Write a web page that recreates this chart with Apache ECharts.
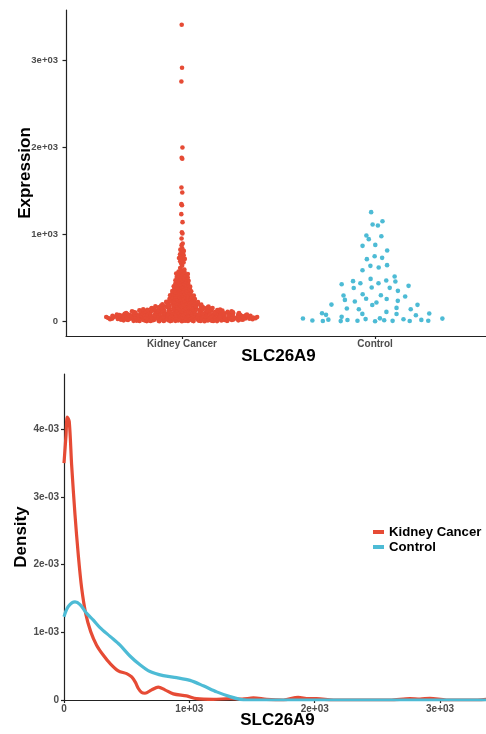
<!DOCTYPE html>
<html lang="en">
<head>
<meta charset="UTF-8">
<title>SLC26A9 expression</title>
<script src="https://cdn.jsdelivr.net/npm/echarts@6.0.0/dist/echarts.min.js"></script>
<style>
  html, body { margin: 0; padding: 0; background: #fff; }
  #chart { width: 486px; height: 734px; }
</style>
</head>
<body>
<div id="chart"></div>
<script>
// groups and colours
const groups = ['Kidney Cancer', 'Control'];
const colors = ['#E64B35', '#4DBBD5'];

// expression values (kidney cancer mass estimated from its width)
const kidneyExpr = [
  0,0,0,1,1,1,1,2,2,2,3,3,3,4,4,4,5,5,5,5,6,6,7,7,7,8,8,8,9,9,10,10,10,11,11,11,12,12,13,13,13,14,14,14,15,15,16,16,16,17,17,18,18,19,19,
  20,20,21,21,22,22,22,23,23,23,24,24,24,25,25,26,26,26,27,27,27,28,28,29,29,29,30,30,30,31,31,32,32,33,33,33,34,34,35,35,36,36,37,37,37,38,38,39,39,39,
  40,40,41,41,41,42,42,43,43,43,44,44,45,45,45,46,46,47,47,47,48,48,49,49,50,50,50,51,51,52,52,53,53,53,54,54,55,55,56,56,56,57,57,58,58,59,59,59,
  60,60,61,61,62,62,63,63,63,64,64,65,65,66,66,67,67,68,68,68,69,69,70,70,71,71,72,72,73,73,73,74,74,75,75,76,76,77,77,78,78,79,
  80,80,81,81,82,82,83,83,84,84,85,85,86,86,87,87,88,88,89,89,90,90,91,91,92,92,93,93,94,94,95,95,96,96,97,98,99,99,
  100,100,101,102,102,103,104,104,105,106,106,107,108,108,109,110,110,111,112,112,113,114,114,115,116,116,117,118,118,119,119,119,
  120,121,121,122,123,123,124,125,126,126,127,128,129,129,130,131,132,132,133,134,135,135,136,137,138,139,
  140,141,142,143,144,145,146,147,148,149,150,151,152,153,154,155,156,157,158,159,
  160,161,163,164,165,166,168,169,170,171,173,174,175,176,178,179,
  180,182,183,185,186,188,189,191,193,194,196,197,199,
  200,202,204,206,208,210,212,214,216,218,220,222,224,226,228,230,232,234,237,239,241,244,246,248,
  250,253,255,257,260,262,265,267,270,272,275,277,280,282,285,287,290,292,295,297,
  301,304,307,310,313,316,319,322,325,328,331,334,337,340,343,346,349,
  352,355,359,362,366,369,373,376,380,383,387,390,394,397,
  402,406,410,414,418,422,426,430,434,438,442,446,
  452,456,461,465,470,474,479,483,488,492,497,
  502,507,512,517,522,527,532,537,542,547,
  552,558,565,572,579,586,594,
  612,637,662,675,688,697,705,716,727,738,746,758,769,781,794,808,822,839,874,893,950,
  1008,1023,1138,1230,1333,1345,1479,1537,1866,1877,1996,2755,2912,3406
];
const controlExpr = [
  0,1,2,3,4,5,6,8,11,14,15,18,22,24,30,31,33,50,69,73,82,84,88,92,107,
  137,138,146,153,187,188,191,215,226,234,245,256,258,284,295,299,310,349,
  382,383,387,406,425,436,437,456,460,467,486,513,586,617,636,644,
  713,728,747,813,866,877,943,977,985,1100,1111,1149,1253
];

// density curves
const kidneyDensX = [0,16,26,42,61,88,114,141,175,213,260,314,367,433,500,540,570,593,620,646,699,752,805,872,978,1058,1191,1324,1420,1510,1616,1750,1868,1950,2015,2150,2600,2759,2840,2919,3050,3300,3406];
const kidneyDensY = [0.00350,0.00391,0.00418,0.00411,0.00347,0.00273,0.00214,0.00165,0.00126,0.00101,0.00081,0.00066,0.00054,0.00043,0.00039,0.00034,0.00026,0.00017,0.00011,0.00010,0.00015,0.00019,0.00015,0.00009,0.00006,0.00002,0.00001,0.00002,0.000015,0.00003,0.00001,0,0.00004,0.00002,0.00002,0,0,0.00002,0.000015,0.000025,0,0,0.00002];
const controlDensX = [0,34,88,128,181,234,287,367,447,526,606,686,792,898,1005,1111,1218,1324,1404,1460,2000,3406];
const controlDensY = [0.00123,0.00138,0.00145,0.00141,0.00128,0.00118,0.00107,0.00094,0.00081,0.00065,0.00052,0.00042,0.00036,0.00033,0.00029,0.00021,0.00012,0.00005,0.00001,0,0,0];

// tick values
const exprTicks = [0, 1000, 2000, 3000];
const densTicks = [0, 0.001, 0.002, 0.003, 0.004];
const slcTicks = [0, 1000, 2000, 3000];

// ---- quasirandom offsets (same idea as ggbeeswarm / vipor) ----
function vdc(i) {
  let r = 0, f = 0.5;
  while (i > 0) { r += f * (i % 2); i = Math.floor(i / 2); f /= 2; }
  return r;
}
function quantile(s, p) {
  const h = (s.length - 1) * p, lo = Math.floor(h);
  const hi = Math.min(lo + 1, s.length - 1);
  return s[lo] + (h - lo) * (s[hi] - s[lo]);
}
function bwNrd0(v) {
  const n = v.length;
  const mean = v.reduce((a, b) => a + b, 0) / n;
  const sd = Math.sqrt(v.reduce((a, b) => a + (b - mean) * (b - mean), 0) / (n - 1));
  const s = v.slice().sort((a, b) => a - b);
  const iqr = quantile(s, 0.75) - quantile(s, 0.25);
  let lo = Math.min(sd, iqr / 1.34);
  if (!lo) lo = sd || 1;
  return 0.9 * lo * Math.pow(n, -0.2);
}
function kde(v, bw, x) {
  let s = 0;
  for (const y of v) { const z = (x - y) / bw; s += Math.exp(-0.5 * z * z); }
  return s / (v.length * bw * Math.sqrt(2 * Math.PI));
}
function quasiOffsets(v, width, adjust) {
  const bw = bwNrd0(v) * adjust;
  const lo = Math.min(...v) - 3 * bw, hi = Math.max(...v) + 3 * bw;
  let maxD = 0;
  for (let k = 0; k < 512; k++) maxD = Math.max(maxD, kde(v, bw, lo + (hi - lo) * k / 511));
  const order = v.map((y, i) => i).sort((a, b) => v[a] - v[b] || a - b);
  const rank = [];
  order.forEach((idx, r) => { rank[idx] = r + 1; });
  return v.map((y, i) => width * kde(v, bw, y) / maxD * (vdc(rank[i]) - 0.5) * 2);
}
function swarmPoints(v, center) {
  const off = quasiOffsets(v, 0.4, 0.5);
  return v.map((y, i) => [center + off[i], y]);
}

function sci(v) {
  if (v === 0) return '0';
  const e = Math.floor(Math.log10(Math.abs(v)) + 1e-9);
  const m = Math.round(v / Math.pow(10, e));
  return m + 'e' + (e < 0 ? '-' : '+') + String(Math.abs(e)).padStart(2, '0');
}

const FONT = 'Liberation Sans, Arial, sans-serif';
const axisLineStyle = { color: '#222', width: 1.2 };
const tickLabel = { color: '#4D4D4D', fontSize: 10, fontWeight: 'bold', fontFamily: FONT };
const nameStyle = { color: '#000', fontSize: 17, fontWeight: 'bold', fontFamily: FONT };

const chart = echarts.init(document.getElementById('chart'));
chart.setOption({
  animation: false,
  backgroundColor: '#fff',
  grid: [
    { left: 66, top: 10, width: 425, height: 326, outerBoundsMode: 'none' },
    { left: 64, top: 374, width: 427, height: 326, outerBoundsMode: 'none' }
  ],
  legend: {
    orient: 'vertical',
    left: 373, top: 525, padding: 0,
    itemWidth: 11, itemHeight: 4, itemGap: 1,
    icon: 'rect',
    data: groups,
    textStyle: { color: '#000', fontSize: 13.2, fontWeight: 'bold', fontFamily: FONT, lineHeight: 14 }
  },
  xAxis: [
    {
      gridIndex: 0, type: 'value', min: 0.4, max: 2.6,
      name: 'SLC26A9', nameLocation: 'middle', nameGap: 12, nameMoveOverlap: false, nameTextStyle: nameStyle,
      axisLine: { show: true, onZero: false, lineStyle: axisLineStyle },
      axisTick: { show: true, length: 3, lineStyle: axisLineStyle, customValues: [1, 2] },
      axisLabel: Object.assign({ margin: 3, customValues: [1, 2], formatter: v => groups[Math.round(v) - 1] }, tickLabel),
      splitLine: { show: false }
    },
    {
      gridIndex: 1, type: 'value', min: 0, max: 3406,
      name: 'SLC26A9', nameLocation: 'middle', nameGap: 12, nameMoveOverlap: false, nameTextStyle: nameStyle,
      axisLine: { show: true, onZero: false, lineStyle: axisLineStyle },
      axisTick: { show: true, length: 3, lineStyle: axisLineStyle, customValues: slcTicks },
      axisLabel: Object.assign({ margin: 4, customValues: slcTicks, formatter: sci }, tickLabel),
      splitLine: { show: false }
    }
  ],
  yAxis: [
    {
      gridIndex: 0, type: 'value', min: -170, max: 3576,
      name: 'Expression', nameLocation: 'middle', nameGap: 32, nameMoveOverlap: false, nameTextStyle: nameStyle,
      axisLine: { show: true, onZero: false, lineStyle: axisLineStyle },
      axisTick: { show: true, length: 3.5, lineStyle: axisLineStyle, customValues: exprTicks },
      axisLabel: Object.assign({}, tickLabel, { margin: 8, fontSize: 9.5, customValues: exprTicks, formatter: sci }),
      splitLine: { show: false }
    },
    {
      gridIndex: 1, type: 'value', min: 0, max: 0.004815,
      name: 'Density', nameLocation: 'middle', nameGap: 34, nameMoveOverlap: false, nameTextStyle: nameStyle,
      axisLine: { show: true, onZero: false, lineStyle: axisLineStyle },
      axisTick: { show: true, length: 3, lineStyle: axisLineStyle, customValues: densTicks },
      axisLabel: Object.assign({ margin: 5, customValues: densTicks, formatter: sci }, tickLabel),
      splitLine: { show: false }
    }
  ],
  series: [
    {
      name: groups[0], type: 'scatter', xAxisIndex: 0, yAxisIndex: 0,
      data: swarmPoints(kidneyExpr, 1), symbolSize: 4.6,
      itemStyle: { color: colors[0], opacity: 1 }, silent: true
    },
    {
      name: groups[1], type: 'scatter', xAxisIndex: 0, yAxisIndex: 0,
      data: swarmPoints(controlExpr, 2), symbolSize: 4.6,
      itemStyle: { color: colors[1], opacity: 1 }, silent: true
    },
    {
      name: groups[0], type: 'line', xAxisIndex: 1, yAxisIndex: 1,
      data: kidneyDensX.map((x, i) => [x, kidneyDensY[i]]),
      smooth: 0.3, showSymbol: false, clip: true,
      itemStyle: { color: colors[0] },
      lineStyle: { color: colors[0], width: 3.2 }
    },
    {
      name: groups[1], type: 'line', xAxisIndex: 1, yAxisIndex: 1,
      data: controlDensX.map((x, i) => [x, controlDensY[i]]),
      smooth: 0.3, showSymbol: false, clip: true,
      itemStyle: { color: colors[1] },
      lineStyle: { color: colors[1], width: 3.2 }
    }
  ]
});
</script>
</body>
</html>
